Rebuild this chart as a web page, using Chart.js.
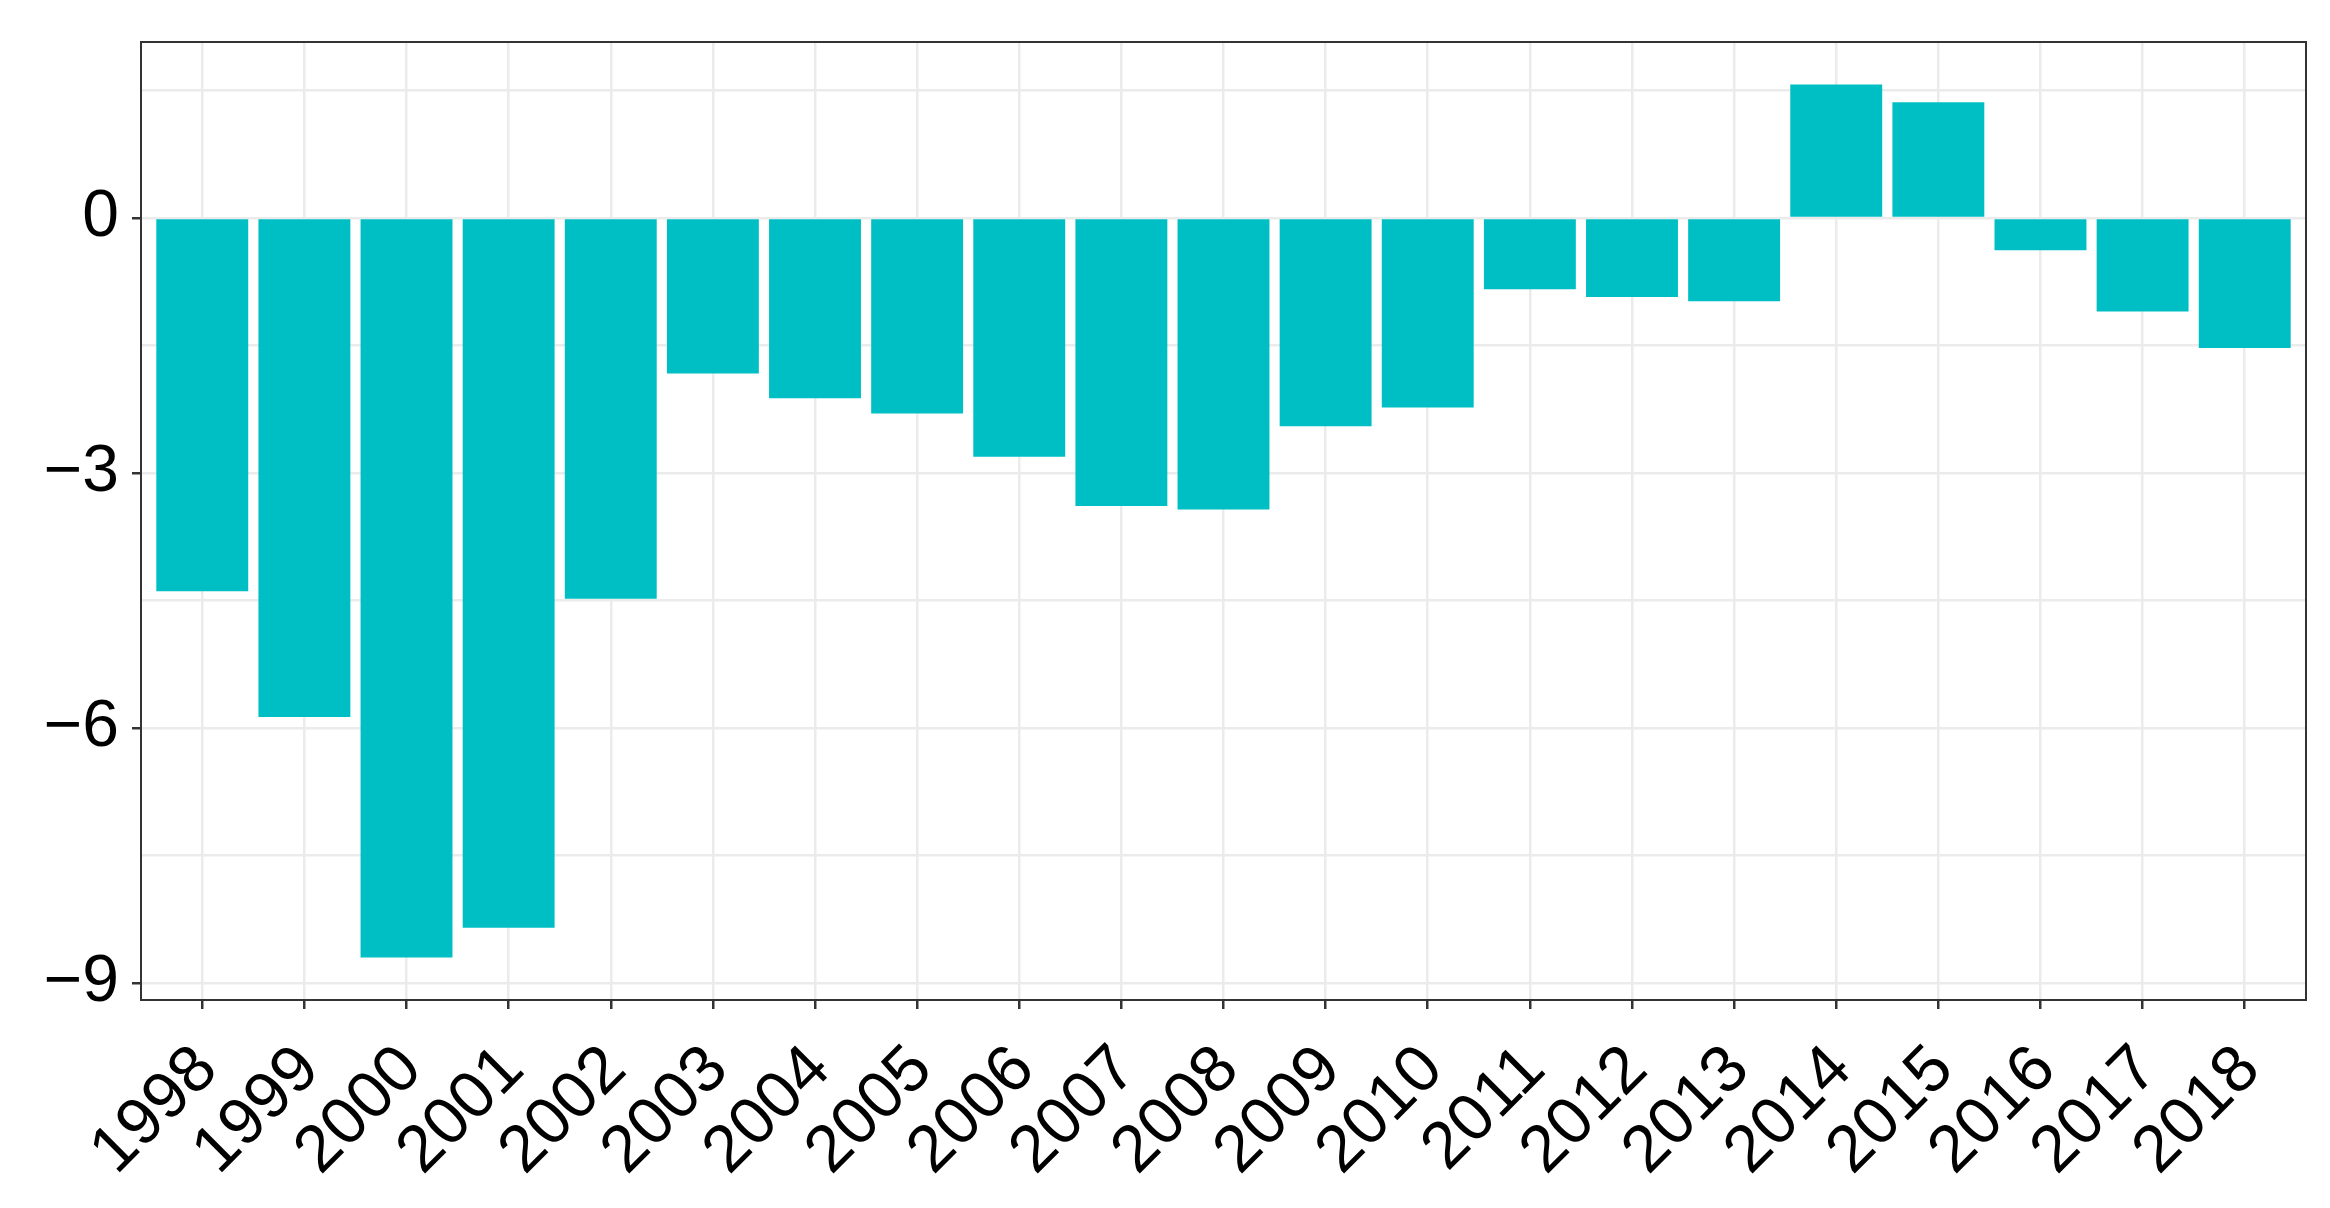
<!DOCTYPE html>
<html>
<head>
<meta charset="utf-8">
<title>Annual balance 1998-2018</title>
<script src="https://cdn.jsdelivr.net/npm/chart.js@4.4.1/dist/chart.umd.min.js"></script>
<style>
  html, body { margin: 0; padding: 0; background: #fff; }
  #wrap { width: 2330px; height: 1208px; }
</style>
</head>
<body>
<div id="wrap"><canvas id="balanceChart"></canvas></div>
<script>
// values
var years = ['1998', '1999', '2000', '2001', '2002', '2003', '2004', '2005', '2006', '2007', '2008',
             '2009', '2010', '2011', '2012', '2013', '2014', '2015', '2016', '2017', '2018'];
var values = [-4.39, -5.87, -8.70, -8.35, -4.48, -1.83, -2.12, -2.30, -2.81, -3.39, -3.43,
              -2.45, -2.23, -0.84, -0.93, -0.98, 1.57, 1.36, -0.38, -1.10, -1.53];

var yMajorTicks = [0, -3, -6, -9];
var yMajorLabels = ['0', '\u22123', '\u22126', '\u22129'];
var yMinorTicks = [1.5, -1.5, -4.5, -7.5];

document.addEventListener('DOMContentLoaded', function () {
    var ctx = document.getElementById('balanceChart').getContext('2d');

    var points = years.map(function (y, i) {
        return { x: i + 1, y: values[i] };
    });

    // ggplot style panel border on top of everything
    var panelBorder = {
        id: 'panelBorder',
        afterDraw: function (chart) {
            var a = chart.chartArea;
            var c = chart.ctx;
            c.save();
            c.strokeStyle = '#333333';
            c.lineWidth = 2;
            c.strokeRect(a.left, a.top, a.right - a.left, a.bottom - a.top);
            c.restore();
        }
    };

    var font = { family: '"Liberation Sans", Arial, sans-serif', size: 66 };

    new Chart(ctx, {
        type: 'bar',
        data: {
            datasets: [{
                data: points,
                backgroundColor: '#00BFC4',
                borderWidth: 0,
                barPercentage: 0.9,
                categoryPercentage: 1.0
            }]
        },
        options: {
            responsive: true,
            maintainAspectRatio: false,
            animation: false,
            layout: { padding: { top: 42, right: 24, left: 0, bottom: 0 } },
            plugins: {
                legend: { display: false },
                tooltip: { enabled: false }
            },
            scales: {
                x: {
                    type: 'linear',
                    min: 0.4,
                    max: 21.6,
                    offset: false,
                    afterBuildTicks: function (scale) {
                        scale.ticks = years.map(function (y, i) { return { value: i + 1 }; });
                    },
                    afterFit: function (scale) {
                        scale.height = 208;
                        scale.paddingLeft = 0;
                        scale.paddingRight = 0;
                    },
                    border: { display: false },
                    grid: {
                        offset: false,
                        color: '#EBEBEB',
                        lineWidth: 2.5,
                        drawTicks: true,
                        tickColor: '#333333',
                        tickLength: 9,
                        tickWidth: 2.5
                    },
                    ticks: {
                        autoSkip: false,
                        minRotation: 45,
                        maxRotation: 45,
                        padding: 22,
                        labelOffset: 5,
                        color: '#000000',
                        font: font,
                        callback: function (v) { return years[v - 1]; }
                    }
                },
                y: {
                    min: -9.2,
                    max: 2.07,
                    afterBuildTicks: function (scale) {
                        scale.ticks = yMinorTicks.concat(yMajorTicks)
                            .sort(function (a, b) { return a - b; })
                            .map(function (v) { return { value: v }; });
                    },
                    afterFit: function (scale) {
                        scale.width = 141;
                        scale.paddingTop = 0;
                        scale.paddingBottom = 0;
                    },
                    border: { display: false },
                    grid: {
                        color: '#EBEBEB',
                        lineWidth: 2.5,
                        drawTicks: true,
                        tickLength: 9,
                        tickWidth: 2.5,
                        tickColor: function (c) {
                            return yMajorTicks.indexOf(c.tick.value) >= 0 ? '#333333' : 'rgba(0,0,0,0)';
                        }
                    },
                    ticks: {
                        padding: 13,
                        color: '#000000',
                        font: font,
                        callback: function (v) {
                            var k = yMajorTicks.indexOf(v);
                            return k >= 0 ? yMajorLabels[k] : '';
                        }
                    }
                }
            }
        },
        plugins: [panelBorder]
    });
});
</script>
</body>
</html>
